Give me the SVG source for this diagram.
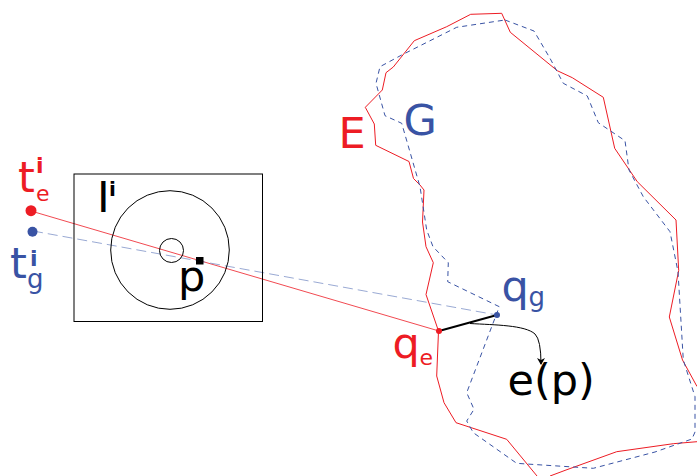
<svg xmlns="http://www.w3.org/2000/svg" width="697" height="476" viewBox="0 0 697 476">
<style>
text{font-family:"DejaVu Sans",sans-serif;font-size:43px}
.r{fill:#ed1c24}.b{fill:#3953a4}.k{fill:#000}
.e{fill:none;stroke:#ed1c24;stroke-width:1}
.g{fill:none;stroke:#3953a4;stroke-width:1;stroke-dasharray:5 4}
.o{fill:none;stroke:#000;stroke-width:1}
.sub{font-size:22px}.subg{font-size:26px}.sup{font-size:22px;font-weight:bold}
</style>
<defs><marker id="a" markerWidth="10" markerHeight="10" refX="6" refY="4" orient="auto" markerUnits="userSpaceOnUse"><path d="M0 0L7 4L0 8L2 4Z" fill="#000"/></marker></defs>
<g id="connectors">
<path d="M31 211L439 331" fill="none" stroke="#ed1c24" stroke-width="0.8"/>
<path d="M33 231L497 315" fill="none" stroke="#7f93c8" stroke-width="0.8" stroke-dasharray="10 5"/>
<path d="M439 331L497 315" fill="none" stroke="#000" stroke-width="2"/>
<path d="M470 323.500C495 325 525 325 535 334Q541 340 541 364" class="o" marker-end="url(#a)"/>
</g>
<g id="E"><path class="e" d="M537 476L506.700 439.300L456 422.700L444 402.700L436.700 376L438.500 331L426 294.500L433.300 262.700L426 246.700L422.500 222L424 190L420 185L413.500 178.500L409 161.500L375.700 145.300L374.300 124L365.300 107.300L382.300 90L386 72.700L393.300 67L414.300 40.700L446.700 26.700L470.700 14.300L501.700 13.300L510.300 32.300L557.300 70.700L572.300 77.700L603.300 97.300L614.700 148.300L637.300 181.700L676 220L678.700 270.500L669.300 317L682.500 360L697 386.500M697 441.700L673.300 443.700L616.700 451.700L566 470L550 476"/></g>
<g id="G"><path class="g" d="M505 20L534 31L550 58.300L563.300 83.300L587.300 96L598.300 122.700L625 140.700L629 170L643.300 196.700L670 231.700L678 271.700L683.300 360L695 396.700L695 432L692 439L655 452L593.300 468.300L526.700 464L516.700 463.300L473.300 432.700L466.700 421L474 409.300L466.700 392.700L499.300 306.700L447.700 281.700L448.300 262.700L433 246.700L426.700 230L420 186.700L401.700 123.300L385 115.700L376 83.300L380 66.700L401.700 55L456.700 27.300Z"/></g>
<g id="image"><rect x="74" y="174" width="188.500" height="147.500" fill="none" stroke="#000"/><circle cx="170" cy="250" r="59.300" class="o"/><circle cx="171.500" cy="250.500" r="12" class="o"/><rect x="196" y="257" width="7.500" height="7.500"/></g>
<g id="te"><circle cx="31" cy="210.700" r="5.500" fill="#ed1c24"/></g>
<g id="tg"><circle cx="32.500" cy="231.700" r="5" fill="#3953a4"/></g>
<circle cx="439" cy="331" r="3" fill="#ed1c24"/><circle cx="497" cy="315" r="3" fill="#3953a4"/>
<g id="labels">
<text x="18" y="192" class="r">t<tspan x="36" y="201" class="sub">e</tspan><tspan x="36" y="173" class="sup">i</tspan></text>
<text x="10" y="278" class="b">t<tspan x="27" y="288" class="subg">g</tspan><tspan x="30" y="266" class="sup">i</tspan></text>
<text x="97" y="212" class="k">I<tspan x="109" y="196" class="sup" style="font-size:20px">i</tspan></text>
<text x="178" y="290.500" class="k">p</text>
<text x="338.500" y="148" class="r">E</text><text x="403.500" y="134.500" class="b">G</text>
<text x="392.500" y="357.500" class="r">q<tspan x="419.500" y="365" class="sub">e</tspan></text>
<text x="501.500" y="301" class="b">q<tspan x="528.500" y="306" class="subg">g</tspan></text>
<text x="507.500" y="395" class="k">e(p)</text>
</g>
</svg>
